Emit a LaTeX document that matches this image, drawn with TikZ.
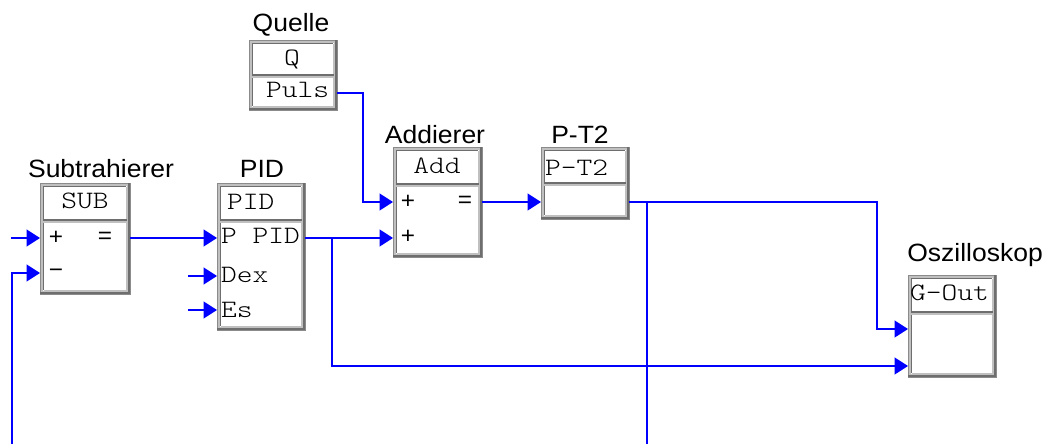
\documentclass[tikz,border=0pt]{standalone}
\usepackage{fontspec}
\setmainfont{Liberation Sans}[FakeStretch=1.06]
\newfontfamily\monof{lmmonolt10-regular}[Extension=.otf,FakeStretch=1.2]
\usetikzlibrary{arrows.meta}
\definecolor{wireblue}{RGB}{0,0,255}
\definecolor{frlight}{RGB}{192,192,192}
\definecolor{frdark}{RGB}{110,110,110}
\tikzset{
  blockbg/.style={draw=none,fill=white,inner sep=0pt,outer sep=0pt,anchor=north west},
  frameband/.style={draw=frlight,line width=3pt},
  frameout/.style={draw=frdark!80,line width=0.8pt},
  framedark/.style={draw=frdark,line width=2.2pt},
  innerdark/.style={draw=frdark,line width=1.2pt},
  innerlight/.style={draw=frlight,line width=1.2pt},
  lbl/.style={font=\fontsize{25}{29}\selectfont,anchor=base,inner sep=0pt},
  mono/.style={font=\monof\fontsize{25}{29}\selectfont,anchor=base,inner sep=0pt},
  monol/.style={mono,anchor=base west},
  sign/.style={font=\fontsize{23}{27}\selectfont,anchor=center,inner sep=0pt},
  wire/.style={draw=wireblue,line width=1.4pt},
  arr/.style={wire,-{Triangle[length=13.5pt 0 0,width=17pt 0 0]}},
}
% name, x1, y1, x2, y2, separator y
\newcommand\blockbox[6]{%
  \node[blockbg,minimum width={(#4-#2)*1pt},minimum height={(#5-#3)*1pt}] (#1) at (#2,#3) {};
  \draw[frameband] ({#2+1.5},{#3+1.5}) rectangle ({#4-1.5},{#5-1.5});
  \draw[frameout] (#2,#3) rectangle (#4,#5);
  \draw[framedark] (#2,{#5-1}) -- ({#4-1},{#5-1}) -- ({#4-1},#3);
  \draw[innerdark] ({#2+3.6},{#5-3.6}) -- ({#2+3.6},{#3+3.6}) -- ({#4-3.6},{#3+3.6});
  \draw[innerlight] ({#2+3.6},{#5-3.6}) -- ({#4-3.6},{#5-3.6}) -- ({#4-3.6},{#3+3.6});
  \draw[innerdark] ({#2+3},#6) -- ({#4-3},#6);
  \draw[innerlight] ({#2+3},{#6+2}) -- ({#4-3},{#6+2});
}
\begin{document}
\begin{tikzpicture}[x=1pt,y=-1pt]
\useasboundingbox[fill=white] (0,0) rectangle (1048,444);

% blocks
\blockbox{sub}{40}{183}{130}{294}{220}
\blockbox{pid}{217}{183}{305}{330}{220}
\blockbox{quelle}{249}{40}{337}{110}{75}
\blockbox{add}{393}{147}{482}{257}{184}
\blockbox{pt}{541}{147}{629}{219}{183}
\blockbox{osz}{908}{275}{996}{377}{312}

% block labels
\node[lbl] (lsub) at (101,177) {Subtrahierer};
\node[lbl] (lpid) at (262,177) {PID};
\node[lbl] (lquelle) at (291,32) {Quelle};
\node[lbl] (ladd) at (435,143) {Addierer};
\node[lbl] (lpt) at (580,143) {P-T2};
\node[lbl] (losz) at (975,261) {Oszilloskop};

% texts inside blocks
\node[mono] (tsub) at (85,208) {SUB};
\node[sign] (sp1) at (56,238) {+};
\node[sign] (seq) at (105,238) {=};
\node[sign] (smi) at (56,273) {−};

\node[monol] (tpid) at (227,209) {PID};
\node[monol] (tp) at (221,243) {P PID};
\node[monol] (tdex) at (221,282) {Dex};
\node[monol] (tes) at (221,317) {Es};

\node[mono] (tq) at (292,66) {Q};
\node[monol] (tpuls) at (266,97) {Puls};

\node[mono] (tadd) at (437,173) {Add};
\node[sign] (ap1) at (408,202) {+};
\node[sign] (aeq) at (465,202) {=};
\node[sign] (ap2) at (408,237) {+};

\node[monol] (tpt) at (545,175) {P-T2};
\node[monol] (tosz) at (910,300) {G-Out};

% ports
\coordinate (subin1) at (40,238);
\coordinate (subin2) at (40,273);
\coordinate (subout) at (130,238);
\coordinate (pidin1) at (217,238);
\coordinate (pidin2) at (217,276);
\coordinate (pidin3) at (217,310);
\coordinate (pidout) at (305,238);
\coordinate (qout) at (337,93);
\coordinate (addin1) at (393,202);
\coordinate (addin2) at (393,238);
\coordinate (addout) at (482,202);
\coordinate (ptin) at (541,202);
\coordinate (ptout) at (629,202);
\coordinate (oszin1) at (908,329);
\coordinate (oszin2) at (908,366);

% free ends and bends
\coordinate (f1) at (11,238);
\coordinate (fb) at (12,444);
\coordinate (fdex) at (188,276);
\coordinate (fes) at (188,310);
\coordinate (br1) at (332,238);
\coordinate (br2) at (647,202);
\coordinate (fdown) at (647,444);

% connectors
\draw[arr] (f1) -- (subin1);
\draw[arr] (fb) |- (subin2);
\draw[arr] (subout) -- (pidin1);
\draw[arr] (fdex) -- (pidin2);
\draw[arr] (fes) -- (pidin3);
\draw[arr] (pidout) -- (addin2);
\draw[arr] (br1) |- (oszin2);
\draw[arr] (qout) -- (363,93) |- (addin1);
\draw[arr] (addout) -- (ptin);
\draw[arr] (ptout) -- (877,202) |- (oszin1);
\draw[wire] (br2) -- (fdown);
\end{tikzpicture}
\end{document}
